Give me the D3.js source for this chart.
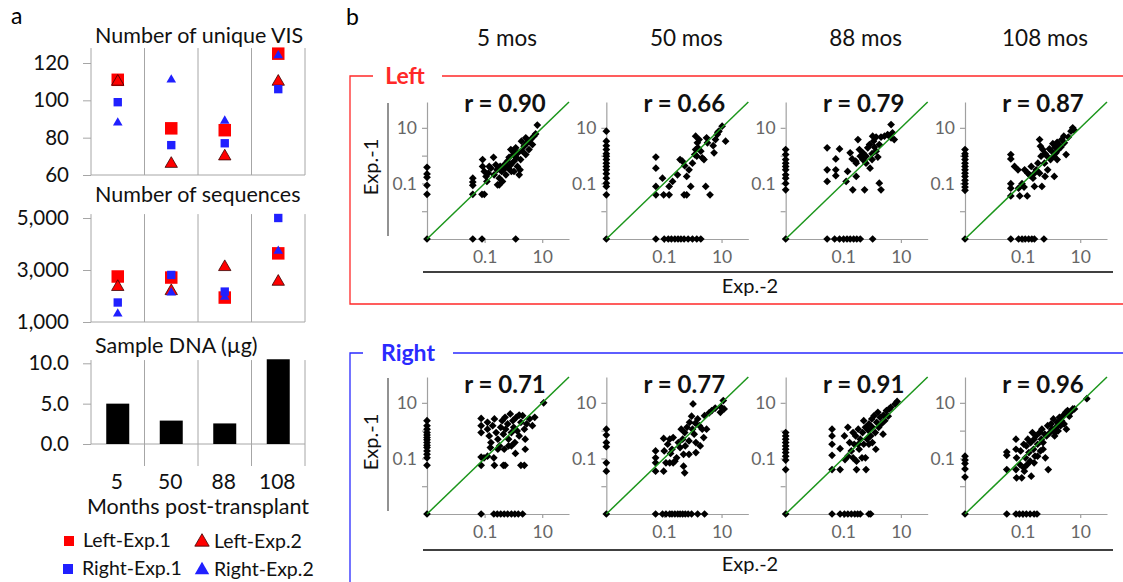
<!DOCTYPE html>
<html>
<head>
<meta charset="utf-8">
<script src="https://cdn.jsdelivr.net/npm/d3@7"></script>
<style>
body { margin: 0; background: #fff; }
svg { display: block; font-family: Lato, "Open Sans", sans-serif; }
</style>
</head>
<body>
<div id="chart"></div>
<script>
// ---- panel a data ----
const months = ["5", "50", "88", "108"];
const visLeftExp1 = [111, 85, 84, 125];
const visLeftExp2 = [110, 66, 70, 110];
const visRightExp1 = [99, 76, 77, 106];
const visRightExp2 = [88, 111, 89, 124];
const seqLeftExp1 = [2750, 2710, 1940, 3640];
const seqLeftExp2 = [2350, 2190, 3115, 2550];
const seqRightExp1 = [1750, 2810, 2170, 5000];
const seqRightExp2 = [1320, 2130, 1960, 3730];
const sampleDNA = [5.0, 2.9, 2.55, 10.5];

// ---- panel b data: [log10 Exp.-2, log10 Exp.-1], null = zero ----
const panelTitles = ["5 mos", "50 mos", "88 mos", "108 mos"];
const rLeft = ["0.90", "0.66", "0.79", "0.87"];
const rRight = ["0.71", "0.77", "0.91", "0.96"];

const left5 = [
  [null, null], [null, -0.42], [null, -0.66], [null, -0.78], [null, -1.07], [null, -1.39],
  [-1.41, null], [-1.09, null], [0.08, null],
  [-1.41, -0.81], [-1.41, -0.95], [-1.41, -1.07], [-1.41, -1.39], [-1.09, -1.39], [-1.01, -1.39],
  [-1.07, -0.14], [-1.07, -0.39], [-1.01, -0.57], [-0.95, -0.75], [-0.87, -0.63], [-0.78, -0.45],
  [-0.69, -0.06], [-0.67, -0.69], [-0.57, -0.51], [-0.49, -0.81], [-0.49, -1.05], [-0.41, -0.57],
  [-0.32, -0.33], [-0.26, -0.69], [-0.21, -0.20], [-0.15, -0.06], [-0.09, -0.33], [-0.07, -0.57],
  [0.00, 0.04], [0.02, -0.20], [0.08, 0.28], [0.11, -0.08], [0.14, -0.39], [0.20, -0.69],
  [0.25, -0.14], [0.31, 0.16], [0.37, 0.34], [0.43, 0.04], [0.48, 0.46], [0.54, 0.22],
  [0.60, 0.58], [0.66, 0.40], [0.71, 0.70], [0.77, 0.78], [0.83, 1.10], [0.23, -0.51],
  [0.02, -0.57], [-0.38, -0.93], [-0.55, -1.05], [-0.84, -0.39], [-0.92, -0.93], [0.02, 0.13],
  [0.16, 0.10], [-0.09, 0.22], [-0.18, -0.45], [0.43, 0.64], [0.28, 0.52], [-0.61, -0.33],
  [-0.46, -0.39], [-0.34, -0.51], [-0.23, -0.39]
];
const left50 = [
  [null, null], [null, 0.88], [null, 0.52], [null, 0.36], [null, 0.22], [null, 0.07], [null, -0.02],
  [null, -0.14], [null, -0.27], [null, -0.39], [null, -0.51], [null, -0.65], [null, -0.81],
  [null, -0.99], [null, -1.11], [null, -1.41],
  [-1.28, null], [-0.99, null], [-0.85, null], [-0.74, null], [-0.62, null], [-0.51, null],
  [-0.41, null], [-0.30, null], [-0.16, null], [-0.01, null], [0.14, null], [0.28, null],
  [-1.28, -0.05], [-1.28, -0.45], [-1.28, -1.11], [-1.28, -1.41], [-1.05, -0.81], [-1.01, -1.41],
  [-0.82, -1.11], [-0.82, -1.41], [-0.70, -0.93], [-0.53, -0.69], [-0.44, -0.14], [-0.36, -0.20],
  [-0.28, -0.36], [-0.30, -1.41], [-0.21, -1.41], [-0.21, -0.75], [-0.13, -0.51], [-0.07, -1.11],
  [-0.01, -0.27], [0.07, 0.04], [0.10, 0.70], [0.16, 0.46], [0.18, 0.28], [0.28, 0.16],
  [0.33, -0.08], [0.14, -0.02], [0.48, 0.64], [0.51, 0.46], [0.45, -1.11], [0.60, -1.41],
  [0.71, 0.36], [0.74, 0.10], [0.79, 0.58], [0.85, 0.76], [0.87, 0.84], [0.91, 0.88],
  [1.02, 1.06], [1.14, 0.52], [0.10, 0.22], [0.22, 0.58], [0.39, -0.14]
];
const left88 = [
  [null, null], [null, 0.22], [null, 0.04], [null, -0.14], [null, -0.27], [null, -0.39],
  [null, -0.51], [null, -0.69], [null, -0.81], [null, -1.00], [null, -1.23],
  [-1.56, null], [-1.30, null], [-1.13, null], [-0.99, null], [-0.87, null], [-0.76, null],
  [-0.64, null], [-0.53, null], [-0.41, null], [0.02, null],
  [-1.56, 0.28], [-1.56, -0.51], [-1.56, -0.93], [-1.26, -0.12], [-1.26, -0.51], [-1.26, -0.72],
  [-1.13, 0.24], [-0.90, -0.93], [-0.85, -0.57], [-0.69, -0.12], [-0.67, -1.23], [-0.55, -0.75],
  [-0.55, -0.27], [-0.49, 0.58], [-0.44, 0.22], [-0.41, -0.02], [-0.32, -0.14], [-0.26, -1.23],
  [-0.21, -0.02], [-0.15, 0.28], [-0.09, 0.40], [-0.07, -0.45], [0.00, -0.14], [0.02, 0.70],
  [0.08, 0.31], [0.14, 0.16], [0.20, -0.05], [0.25, -0.99], [0.31, -1.23], [0.05, 0.52],
  [0.14, 0.67], [0.31, 0.67], [0.43, 0.70], [0.54, 0.76], [0.66, 0.64], [0.71, 0.82],
  [0.77, 0.58], [0.66, 1.12], [0.00, 0.07], [-0.21, -0.27], [-0.32, 0.10], [-0.57, -0.20],
  [-0.76, 0.10], [0.25, 0.40]
];
const left108 = [
  [null, null], [null, 0.22], [null, 0.07], [null, -0.02], [null, -0.14], [null, -0.27],
  [null, -0.39], [null, -0.51], [null, -0.63], [null, -0.75], [null, -0.89], [null, -1.01],
  [null, -1.13], [null, -1.25],
  [-1.41, null], [-1.14, null], [-1.02, null], [-0.91, null], [-0.79, null], [-0.68, null],
  [-0.59, null], [-0.26, null],
  [-1.41, 0.04], [-1.41, -0.12], [-1.41, -1.01], [-1.41, -1.17], [-1.41, -1.45], [-1.10, -1.45],
  [-1.14, -1.17], [-1.02, -1.01], [-0.95, -1.13], [-0.84, -1.45], [-0.93, -0.51], [-0.82, -0.63],
  [-0.70, -0.39], [-0.76, -0.69], [-0.64, -0.81], [-0.59, -0.63], [-0.53, -0.51], [-0.47, -0.27],
  [-0.41, 0.58], [-0.41, -0.63], [-0.36, -0.02], [-0.30, 0.22], [-0.24, -0.27], [-0.22, 0.07],
  [-0.15, -0.02], [-0.13, -0.51], [-0.07, 0.24], [-0.03, -0.14], [0.01, 0.16], [0.05, 0.43],
  [0.08, -0.02], [0.13, 0.31], [0.16, 0.10], [0.20, 0.48], [0.24, 0.22], [0.28, 0.36],
  [0.33, 0.31], [0.36, 0.58], [0.45, 0.46], [0.51, 0.04], [0.43, 0.70], [0.59, 0.67],
  [0.68, 0.88], [0.74, 1.00], [0.79, 0.92], [-1.28, -0.39], [-1.16, -0.51], [-0.59, -1.11],
  [-0.33, -1.11], [-0.22, -0.75], [0.10, -0.75], [-0.38, 0.34], [0.20, -0.14]
];
const right5 = [
  [null, null], [null, 0.36], [null, 0.18], [null, 0.05], [null, -0.07], [null, -0.16],
  [null, -0.25], [null, -0.33], [null, -0.43], [null, -0.53], [null, -0.61], [null, -0.73],
  [null, -0.85], [null, -0.98], [null, -1.25],
  [-1.12, null], [-0.68, null], [-0.56, null], [-0.44, null], [-0.32, null], [-0.20, null],
  [-0.07, null], [0.05, null], [0.17, null], [0.32, null],
  [-1.12, 0.44], [-1.12, 0.18], [-1.12, -0.07], [-1.12, -0.95], [-1.12, -1.25], [-0.90, 0.30],
  [-0.90, 0.05], [-0.84, -0.19], [-0.78, -0.43], [-0.72, 0.18], [-0.66, 0.42], [-0.60, -0.07],
  [-0.54, -0.31], [-0.48, -0.55], [-0.44, 0.12], [-0.39, 0.36], [-0.35, -0.13], [-0.32, -0.67],
  [-0.29, 0.48], [-0.27, 0.05], [-0.20, 0.24], [-0.17, -0.31], [-0.11, 0.60], [-0.07, -0.07],
  [-0.02, 0.36], [0.01, 0.12], [0.05, -0.43], [0.10, 0.48], [0.13, -0.01], [0.20, -0.19],
  [0.26, 0.30], [0.32, 0.54], [0.38, 0.05], [0.41, -0.67], [0.46, 0.24], [0.56, 0.42],
  [0.66, 0.18], [0.74, 0.48], [1.05, 1.00], [-1.02, -0.98], [-0.90, -0.92], [-0.66, -1.25],
  [-0.35, -1.25], [-0.29, -1.25], [0.26, -1.25], [0.38, -1.25], [-0.68, -0.98], [-0.54, -0.67],
  [-0.80, -0.61], [-0.17, -0.55], [0.07, -0.82], [0.20, 0.56], [0.41, -0.31], [-0.07, -0.55]
];
const right50 = [
  [null, null], [null, 0.05], [null, -0.16], [null, -0.43], [null, -0.58], [null, -1.16], [null, -1.46],
  [-1.29, null], [-1.05, null], [-0.93, null], [-0.80, null], [-0.72, null], [-0.62, null],
  [-0.52, null], [-0.44, null], [-0.35, null], [-0.26, null], [-0.16, null], [-0.04, null],
  [0.17, null], [0.41, null],
  [-1.29, -0.73], [-1.29, -0.98], [-1.29, -1.16], [-1.29, -1.46], [-1.01, -0.28], [-0.99, -0.73],
  [-0.93, -1.16], [-0.87, -0.49], [-0.80, -0.31], [-0.77, -0.82], [-0.72, -0.67], [-0.68, -0.25],
  [-0.62, -1.10], [-0.56, -0.98], [-0.50, -0.43], [-0.44, -0.61], [-0.40, 0.05], [-0.35, -0.31],
  [-0.32, -0.85], [-0.28, -0.07], [-0.26, -0.55], [-0.20, 0.12], [-0.13, -0.37], [-0.11, 0.30],
  [-0.04, 0.52], [-0.01, 0.05], [0.01, 0.96], [0.05, -0.13], [0.09, 0.27], [0.11, -0.79],
  [0.17, 0.42], [0.23, 0.18], [0.26, -0.55], [0.33, 0.05], [0.38, -0.25], [0.41, 0.54],
  [0.48, 0.05], [0.57, 0.64], [0.66, 0.72], [0.78, 0.81], [0.96, 0.66], [0.99, 0.84],
  [1.06, 1.08], [1.09, 0.78], [-1.01, -1.46], [-0.80, -1.16], [-0.28, -1.52], [-0.32, -1.28],
  [-0.68, -1.16], [0.11, -0.43], [-0.13, -0.85]
];
const right88 = [
  [null, null], [null, -0.07], [null, -0.19], [null, -0.31], [null, -0.43], [null, -0.55],
  [null, -0.67], [null, -0.79], [null, -0.92], [null, -1.06], [null, -1.40],
  [-1.39, null], [-1.11, null], [-0.96, null], [-0.84, null], [-0.72, null], [-0.60, null],
  [-0.50, null], [-0.41, null], [-0.11, null], [-0.05, null],
  [-1.39, 0.05], [-1.39, -0.19], [-1.39, -0.49], [-1.39, -0.89], [-1.39, -1.40], [-1.11, -0.65],
  [-1.11, -1.40], [-0.96, -0.19], [-0.94, -1.04], [-0.84, 0.12], [-0.84, -0.92], [-0.78, -0.43],
  [-0.72, -0.73], [-0.66, -0.07], [-0.62, -0.49], [-0.57, -0.19], [-0.54, -1.10], [-0.54, -1.40],
  [-0.48, 0.05], [-0.45, -0.67], [-0.41, -0.31], [-0.35, -0.98], [-0.33, -0.07], [-0.29, 0.36],
  [-0.29, -0.49], [-0.23, 0.12], [-0.21, -1.40], [-0.17, -0.31], [-0.13, 0.01], [-0.11, 0.24],
  [-0.05, -0.19], [-0.01, 0.42], [0.01, 0.12], [0.07, 0.54], [0.11, -0.07], [0.13, -0.67],
  [0.16, 0.30], [0.20, 0.66], [0.23, 0.12], [0.28, 0.48], [0.32, 0.24], [0.38, -0.13],
  [0.40, 0.56], [0.44, 0.36], [0.50, 0.72], [0.56, 0.52], [0.60, 0.78], [0.65, 0.84],
  [0.80, 0.96], [0.87, 1.05], [-0.48, -0.49], [-0.66, -0.98], [-0.23, -0.98], [-0.11, -0.49],
  [0.01, -0.43]
];
const right108 = [
  [null, null], [null, -0.92], [null, -1.06], [null, -1.18], [null, -1.38], [null, -1.67],
  [-1.55, null], [-1.23, null], [-1.11, null], [-0.99, null], [-0.87, null], [-0.74, null],
  [-0.60, null], [-0.50, null],
  [-1.55, -0.77], [-1.55, -0.89], [-1.55, -1.40], [-1.23, -0.31], [-1.23, -0.67], [-1.21, -0.98],
  [-1.23, -1.40], [-1.21, -1.70], [-1.09, -1.22], [-1.07, -0.73], [-1.03, -1.70], [-0.96, -0.49],
  [-0.94, -1.46], [-0.90, -0.98], [-0.87, -0.55], [-0.84, -1.22], [-0.82, -0.31], [-0.78, -0.79],
  [-0.74, -1.10], [-0.72, -0.43], [-0.70, -1.64], [-0.66, -0.07], [-0.62, -0.67], [-0.60, -0.31],
  [-0.57, -0.92], [-0.54, -0.19], [-0.48, -0.49], [-0.41, -0.07], [-0.38, -0.73], [-0.35, -0.31],
  [-0.33, 0.05], [-0.29, -0.43], [-0.23, -0.13], [-0.21, -0.98], [-0.17, -0.19], [-0.13, 0.18],
  [-0.11, -1.40], [-0.05, -0.07], [-0.01, 0.24], [0.01, 0.05], [0.07, 0.42], [0.11, -0.19],
  [0.16, 0.12], [0.20, 0.30], [0.23, -0.01], [0.28, 0.48], [0.32, 0.18], [0.35, 0.36],
  [0.40, 0.54], [0.44, 0.24], [0.50, 0.66], [0.52, 0.05], [0.56, 0.72], [0.62, 0.52],
  [0.68, 0.68], [0.74, 0.78], [0.80, 0.78], [1.23, 1.15], [-0.60, -1.16], [-0.96, -1.34],
  [-0.48, -0.92], [-0.29, -0.67], [0.13, -0.07]
];

// ---- setup ----
const width = 1123, height = 582;
const svg = d3.select("#chart").append("svg")
  .attr("width", width)
  .attr("height", height);

const red = "#ff0000", blue = "#2020ff", grid = "#a6a6a6";

// =========== panel a ===========
svg.append("text").attr("x", 11).attr("y", 24).attr("font-size", 23).text("a");

const cat = d3.scaleBand().domain(months).range([91, 305]);

function drawFrame(y, topValue, ticks, fmt, title, titleY, sepExtend) {
  const g = svg.append("g");
  const bottom = y.range()[0];
  const top = y(topValue);
  // category separators
  g.selectAll(".sep")
    .data(months)
    .join("line")
    .attr("x1", d => cat(d) + cat.bandwidth())
    .attr("x2", d => cat(d) + cat.bandwidth())
    .attr("y1", top)
    .attr("y2", bottom + sepExtend)
    .attr("stroke", grid);
  g.append("line")
    .attr("x1", 91).attr("x2", 305)
    .attr("y1", bottom).attr("y2", bottom)
    .attr("stroke", grid);
  g.append("line")
    .attr("x1", 91).attr("x2", 91)
    .attr("y1", top).attr("y2", bottom)
    .attr("stroke", grid);
  const ax = g.append("g")
    .attr("transform", "translate(91,0)")
    .call(d3.axisLeft(y).tickValues(ticks).tickFormat(fmt).tickSize(8).tickPadding(14));
  ax.select(".domain").remove();
  ax.selectAll("line").attr("stroke", grid);
  ax.selectAll("text").attr("font-size", 20.5).attr("fill", "#111").attr("font-family", "Lato, sans-serif");
  g.append("text")
    .attr("x", 95).attr("y", titleY)
    .attr("font-size", 21.5)
    .attr("fill", "#111")
    .text(title);
  return g;
}

const markerSpecs = [
  {type: d3.symbolSquare, size: 156, fill: red, stroke: "none"},
  {type: d3.symbolTriangle, size: 66, fill: red, stroke: "#3a0000"},
  {type: d3.symbolSquare, size: 70, fill: blue, stroke: "none"},
  {type: d3.symbolTriangle, size: 40, fill: blue, stroke: "none"}
];

function drawMarkers(g, y, seriesList) {
  seriesList.forEach((vals, i) => {
    const s = markerSpecs[i];
    g.selectAll(".m" + i)
      .data(vals)
      .join("path")
      .attr("d", d3.symbol(s.type, s.size))
      .attr("transform", (d, j) => `translate(${cat(months[j]) + cat.bandwidth() / 2},${y(d)})`)
      .attr("fill", s.fill)
      .attr("stroke", s.stroke)
      .attr("stroke-width", 0.8);
  });
}

// Number of unique VIS
const yVis = d3.scaleLinear().domain([60, 120]).range([175, 63]);
const gVis = drawFrame(yVis, 128, [60, 80, 100, 120], d3.format("d"), "Number of unique VIS", 43, 0);
drawMarkers(gVis, yVis, [visLeftExp1, visLeftExp2, visRightExp1, visRightExp2]);

// Number of sequences
const ySeq = d3.scaleLinear().domain([1000, 5000]).range([322, 218]);
const gSeq = drawFrame(ySeq, 5150, [1000, 3000, 5000], d3.format(","), "Number of sequences", 202, 0);
drawMarkers(gSeq, ySeq, [seqLeftExp1, seqLeftExp2, seqRightExp1, seqRightExp2]);

// Sample DNA
const yDna = d3.scaleLinear().domain([0, 10]).range([444, 363.3]);
const gDna = drawFrame(yDna, 10.4, [0, 5, 10], d3.format(".1f"), "Sample DNA (\u00b5g)", 353, 22);
gDna.selectAll(".bar")
  .data(sampleDNA)
  .join("rect")
  .attr("x", (d, i) => cat(months[i]) + cat.bandwidth() / 2 - 11.5)
  .attr("width", 23)
  .attr("y", d => yDna(d))
  .attr("height", d => yDna(0) - yDna(d))
  .attr("fill", "#000");

svg.append("g").selectAll("text")
  .data(months)
  .join("text")
  .attr("x", d => cat(d) + cat.bandwidth() / 2 - 1)
  .attr("y", 489)
  .attr("text-anchor", "middle")
  .attr("font-size", 21)
  .attr("fill", "#111")
  .text(d => d);
svg.append("text")
  .attr("x", 198).attr("y", 514)
  .attr("text-anchor", "middle")
  .attr("font-size", 21.5)
  .attr("fill", "#111")
  .text("Months post-transplant");

// legend
const legend = [
  {label: "Left-Exp.1", spec: 0, x: 69, y: 541, size: 100},
  {label: "Left-Exp.2", spec: 1, x: 202, y: 542, size: 90},
  {label: "Right-Exp.1", spec: 2, x: 68, y: 569, size: 100},
  {label: "Right-Exp.2", spec: 3, x: 202, y: 570, size: 90}
];
legend.forEach(l => {
  const s = markerSpecs[l.spec];
  svg.append("path")
    .attr("d", d3.symbol(s.type, l.size))
    .attr("transform", `translate(${l.x},${l.y})`)
    .attr("fill", s.fill)
    .attr("stroke", s.stroke)
    .attr("stroke-width", 0.8);
  svg.append("text")
    .attr("x", l.x + (l.spec % 2 === 0 ? 14 : 12))
    .attr("y", l.y + 6)
    .attr("font-size", 19.5)
    .attr("fill", "#111")
    .text(l.label);
});

// =========== panel b ===========
svg.append("text").attr("x", 346).attr("y", 25).attr("font-size", 23).text("b");

const colX = d3.scaleLinear().domain([0, 3]).range([427, 965]);
const panelW = 142, panelH = 137;
const lx = d3.scaleLinear().domain([-3, 1.93]).range([0, panelW]);
const ly = d3.scaleLinear().domain([-3, 1.93]).range([panelH, 0]);

svg.append("g").selectAll("text")
  .data(panelTitles)
  .join("text")
  .attr("x", (d, i) => colX(i) + 80)
  .attr("y", 46)
  .attr("text-anchor", "middle")
  .attr("font-size", 22.5)
  .attr("fill", "#111")
  .text(d => d);

const rows = [
  {name: "Left", color: "#ff2828", top: 102, frameTop: 76, frameBottom: 304, gap: [373, 442],
   labelX: 405, labelY: 84, r: rLeft, sets: [left5, left50, left88, left108], rDy: 10, exp2Y: 272},
  {name: "Right", color: "#2a2aff", top: 377, frameTop: 353, frameBottom: 640, gap: [363, 453],
   labelX: 408, labelY: 361, r: rRight, sets: [right5, right50, right88, right108], rDy: 16, exp2Y: 550}
];

const diamond = d3.symbol(d3.symbolSquare, 30);

rows.forEach(row => {
  // frame
  svg.append("path")
    .attr("d", `M${row.gap[0]},${row.frameTop}H350V${row.frameBottom}H1140M${row.gap[1]},${row.frameTop}H1140`)
    .attr("fill", "none")
    .attr("stroke", row.color)
    .attr("stroke-width", 1.3);
  svg.append("text")
    .attr("x", row.labelX).attr("y", row.labelY)
    .attr("text-anchor", "middle")
    .attr("font-size", 23)
    .attr("font-weight", "bold")
    .attr("fill", row.color)
    .text(row.name);

  // shared axis titles
  svg.append("line")
    .attr("x1", 388).attr("x2", 388)
    .attr("y1", row.top + 1).attr("y2", row.top + panelH - 3)
    .attr("stroke", "#6e6e6e").attr("stroke-width", 1.5);
  svg.append("text")
    .attr("transform", `translate(378,${row.top + 65}) rotate(-90)`)
    .attr("text-anchor", "middle")
    .attr("font-size", 20)
    .attr("fill", "#111")
    .text("Exp.-1");
  svg.append("line")
    .attr("x1", 423).attr("x2", 1113)
    .attr("y1", row.exp2Y).attr("y2", row.exp2Y)
    .attr("stroke", "#000").attr("stroke-width", 1.5);
  svg.append("text")
    .attr("x", 750).attr("y", row.exp2Y + 21)
    .attr("text-anchor", "middle")
    .attr("font-size", 20)
    .attr("fill", "#111")
    .text("Exp.-2");

  row.sets.forEach((pts, i) => {
    const g = svg.append("g").attr("transform", `translate(${colX(i)},${row.top})`);

    const ya = g.append("g")
      .call(d3.axisLeft(ly).tickValues([-2, -1, 0, 1])
        .tickFormat(d => d === 1 ? "10" : d === -1 ? "0.1" : "")
        .tickSize(5).tickSizeOuter(0).tickPadding(5));
    const xa = g.append("g")
      .attr("transform", `translate(0,${panelH})`)
      .call(d3.axisBottom(lx).tickValues([-1, 1])
        .tickFormat(d => d === 1 ? "10" : "0.1")
        .tickSize(4).tickSizeOuter(0).tickPadding(8));
    [ya, xa].forEach(a => {
      a.selectAll(".domain, line").attr("stroke", "#a0a0a0").attr("stroke-width", 1.2);
      a.selectAll("text").attr("font-size", 17.5).attr("fill", "#666").attr("font-family", "Lato, sans-serif");
    });

    g.selectAll(".pt")
      .data(pts)
      .join("path")
      .attr("d", diamond)
      .attr("transform", d => `translate(${lx(d[0] === null ? -3 : d[0])},${ly(d[1] === null ? -3 : d[1])}) rotate(45)`)
      .attr("fill", "#000");

    g.append("line")
      .attr("x1", lx(-3)).attr("y1", ly(-3))
      .attr("x2", lx(1.93)).attr("y2", ly(1.93))
      .attr("stroke", "#1c961c")
      .attr("stroke-width", 1.5);

    g.append("text")
      .attr("x", 78).attr("y", row.rDy)
      .attr("text-anchor", "middle")
      .attr("font-size", 24)
      .attr("font-weight", "bold")
      .attr("fill", "#111")
      .text("r = " + row.r[i]);
  });
});
</script>
</body>
</html>
